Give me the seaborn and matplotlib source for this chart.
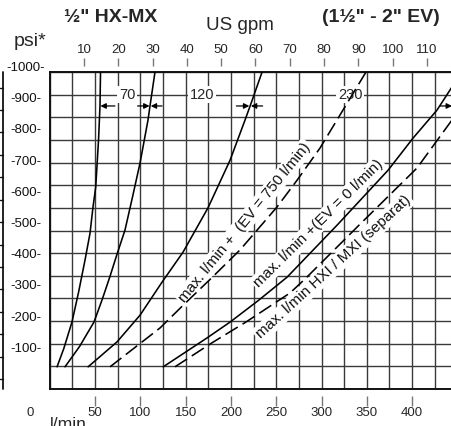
import numpy as np
import pandas as pd
import matplotlib
matplotlib.use("Agg")
import matplotlib.pyplot as plt
import seaborn as sns
from matplotlib.ticker import MultipleLocator, NullFormatter
from matplotlib.transforms import blended_transform_factory

# ---------------- data (flow in l/min, pressure in bar) ----------------
c1_q = [8.1, 15.5, 24.6, 32.0, 39.0, 44.5, 47.8, 50.8, 53.9, 55.5, 56.1]
c1_p = [4.9, 8.9, 14.8, 21.5, 28.5, 34.4, 40.2, 44.6, 55.0, 62.5, 70.0]

c2_q = [16.9, 33.0, 48.9, 58.0, 66.6, 73.7, 83.1, 91.5, 99.7, 108.5, 110.7, 116.2]
c2_p = [4.9, 9.4, 14.8, 19.8, 24.9, 29.4, 35.1, 42.5, 49.9, 59.4, 62.5, 70.0]

c3_q = [42.4, 74.3, 99.7, 124.0, 147.1, 174.7, 199.0, 215.6, 221.2, 234.4]
c3_p = [4.9, 10.4, 16.3, 23.6, 30.2, 40.0, 50.5, 59.4, 62.5, 70.0]

c4_q = [66.6, 102.0, 121.9, 147.3, 178.0, 210.0, 250.9, 273.0, 298.3, 323.7, 349.1]
c4_p = [4.9, 10.4, 13.5, 18.5, 24.4, 30.7, 40.2, 46.1, 53.2, 61.6, 70.0]

c5_q = [125.3, 173.8, 199.2, 230.0, 262.0, 318.2, 373.4, 401.0, 427.5, 444.0]
c5_p = [4.9, 11.3, 14.8, 19.5, 24.7, 36.4, 48.3, 55.4, 61.6, 66.7]

c6_q = [138.3, 179.1, 216.7, 265.2, 281.8, 342.5, 405.4, 444.0]
c6_p = [4.9, 10.2, 14.8, 21.2, 24.3, 36.4, 48.8, 59.4]

curve_labels = ["max. l/min +  (EV = 750 l/min)",
                "max. l/min +(EV = 0 l/min)",
                "max. l/min HXI / MXI (separat)"]

bottom_ticks = [50, 100, 150, 200, 250, 300, 350, 400]
gpm_ticks = [10, 20, 30, 40, 50, 60, 70, 80, 90, 100, 110]
psi_ticks = [100, 200, 300, 400, 500, 600, 700, 800, 900, 1000]

span_labels = ["70", "120", "230"]
span_label_q = [85.4, 168.0, 331.5]

L_PER_GAL = 3.785
BAR_PER_PSI = 1 / 14.5
PSI_OFFSET_BAR = 1.95

# ---------------- style ----------------
sns.set_style("white")
plt.rcParams["font.family"] = ["Liberation Sans", "DejaVu Sans"]

W, H = 452, 426
fig = plt.figure(figsize=(W / 100, H / 100), dpi=100)
x0, x1 = 49.7, 452.0
y_top, y_bot = 72.0, 389.0
ax = fig.add_axes([x0 / W, (H - y_bot) / H, (x1 - x0) / W, (y_bot - y_top) / H])
ax.set_xlim(0, 444)
ax.set_ylim(0, 70)

# grid
ax.xaxis.set_major_locator(MultipleLocator(25))
ax.yaxis.set_major_locator(MultipleLocator(5))
ax.xaxis.set_major_formatter(NullFormatter())
ax.yaxis.set_major_formatter(NullFormatter())
ax.tick_params(length=0)
ax.grid(True, color="#3a3a3a", lw=1.0)
ax.set_axisbelow(True)
for s in ["left", "bottom", "top"]:
    ax.spines[s].set_color("#111111")
    ax.spines[s].set_linewidth(1.4)
ax.spines["right"].set_visible(False)

# curves
dash = (0, (9, 3.5))
curves = [(c1_q, c1_p, "-"), (c2_q, c2_p, "-"), (c3_q, c3_p, "-"),
          (c4_q, c4_p, dash), (c5_q, c5_p, "-"), (c6_q, c6_p, dash)]
for q, p, ls in curves:
    df = pd.DataFrame({"q": q, "p": p})
    sns.lineplot(data=df, x="q", y="p", ax=ax, color="black", lw=1.15,
                 linestyle=ls, sort=False, estimator=None, zorder=5)
ax.set_xlabel("")
ax.set_ylabel("")

# curve labels
lab_pos = [(215.0, 36.8, 51), (296.5, 36.5, 44.6), (313.0, 26.9, 42.5)]
for txt, (qx, py, rot) in zip(curve_labels, lab_pos):
    ax.text(qx, py, txt, rotation=rot, rotation_mode="anchor", ha="center",
            va="center", fontsize=11, color="#111111", zorder=4,
            bbox=dict(boxstyle="square,pad=0.12", fc="white", ec="none"))

# span labels and arrows
for txt, qx in zip(span_labels, span_label_q):
    ax.text(qx, 65, txt, ha="center", va="center", fontsize=10.5, zorder=4,
            bbox=dict(boxstyle="square,pad=0.1", fc="white", ec="none"))
arrows = [(72, 56), (97, 110.2), (124, 111.5), (206, 220.3), (235, 222), (431, 444)]
for tail, tip in arrows:
    ax.annotate("", xy=(tip, 62.5), xytext=(tail, 62.5),
                arrowprops=dict(arrowstyle="-|>", mutation_scale=8, lw=0.9,
                                color="black", shrinkA=0, shrinkB=0),
                zorder=6, annotation_clip=False)

# top US gpm axis
top = ax.secondary_xaxis(1 + 6 / 317, functions=(lambda q: q / L_PER_GAL,
                                                 lambda g: g * L_PER_GAL))
top.set_xticks(gpm_ticks)
top.tick_params(direction="out", length=5.8, width=1.0, color="#777777",
                labelsize=9.5, pad=1.2)
for s in top.spines.values():
    s.set_visible(False)

# bottom l/min axis
bot = ax.secondary_xaxis(-7 / 317)
bot.set_xticks(bottom_ticks)
bot.tick_params(direction="out", length=7.2, width=1.0, color="#777777",
                labelsize=9.5, pad=0.8)
for s in bot.spines.values():
    s.set_visible(False)

# psi labels on the left
tr = blended_transform_factory(fig.transFigure, ax.transData)
for v in psi_ticks:
    ax.text(26 / W, PSI_OFFSET_BAR + v * BAR_PER_PSI, f"-{v}-", transform=tr,
            ha="center", va="center", fontsize=9.5, color="#111111")

# neighbouring-panel edge on the far left
ax.plot([3 / W, 3 / W], [0, 70], transform=tr, color="#111111", lw=1.3,
        clip_on=False)
for yb in np.arange(2.2, 70, 4.95):
    ax.plot([0, 3 / W], [yb, yb], transform=tr, color="#111111", lw=1.0,
            clip_on=False)

# titles and axis names
fig.text(111 / W, 1 - 18 / H, "½\" HX-MX", fontsize=14, fontweight="bold",
         ha="center", va="center")
fig.text(381 / W, 1 - 18 / H, "(1½\" - 2\" EV)", fontsize=14, fontweight="bold",
         ha="center", va="center")
fig.text(240 / W, 1 - 26 / H, "US gpm", fontsize=13.5, ha="center", va="center")
fig.text(30 / W, 1 - 42 / H, "psi*", fontsize=14, ha="center", va="center")
fig.text(30 / W, 1 - 413 / H, "0", fontsize=9.5, ha="center", va="center")
fig.text(50 / W, 1 - 429 / H, "l/min", fontsize=12.6, ha="left", va="baseline")

fig.savefig("out.png", dpi=100)
